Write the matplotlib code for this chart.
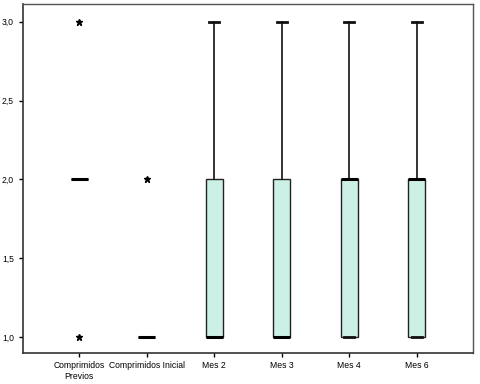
import matplotlib
matplotlib.use("Agg")
import matplotlib.pyplot as plt

plt.rcParams['font.family'] = ['Liberation Sans', 'DejaVu Sans']

categories = ["Comprimidos\nPrevios", "Comprimidos Inicial", "Mes 2", "Mes 3", "Mes 4", "Mes 6"]
q1 = [2, 1, 1, 1, 1, 1]
med = [2, 1, 1, 1, 2, 2]
q3 = [2, 1, 2, 2, 2, 2]
whislo = [2, 1, 1, 1, 1, 1]
whishi = [2, 1, 3, 3, 3, 3]
fliers = [[1, 3], [2], [], [], [], []]
yticks = [1.0, 1.5, 2.0, 2.5, 3.0]
ytick_labels = ["1,0", "1,5", "2,0", "2,5", "3,0"]

stats = []
for i in range(len(categories)):
    stats.append(dict(med=med[i], q1=q1[i], q3=q3[i], whislo=whislo[i],
                      whishi=whishi[i], fliers=fliers[i], label=categories[i]))

fig = plt.figure(figsize=(4.8, 3.84), dpi=100)
ax = fig.add_axes([0.048, 0.081, 0.937, 0.909])

ax.bxp(stats, positions=range(1, 7), widths=0.25, patch_artist=True,
       boxprops=dict(facecolor="#cdf0e6", edgecolor="#222222", linewidth=1.0),
       medianprops=dict(color="black", linewidth=2.2, solid_capstyle="butt"),
       whiskerprops=dict(color="#111111", linewidth=1.2),
       capprops=dict(color="#111111", linewidth=2.0),
       capwidths=0.15,
       flierprops=dict(marker="*", markersize=5, markerfacecolor="black",
                       markeredgecolor="black", linestyle="none"))

ax.set_xlim(0.17, 6.83)
ax.set_ylim(0.898, 3.114)
ax.set_yticks(yticks)
ax.set_yticklabels(ytick_labels)
ax.tick_params(axis="both", labelsize=6.2, length=3, width=1, colors="black")
ax.tick_params(axis="x", pad=3)
for s in ["left", "bottom"]:
    ax.spines[s].set_color("#333333")
    ax.spines[s].set_linewidth(1.2)
for s in ["top", "right"]:
    ax.spines[s].set_color("#555555")
    ax.spines[s].set_linewidth(1.0)

fig.savefig("out.png", dpi=100)
